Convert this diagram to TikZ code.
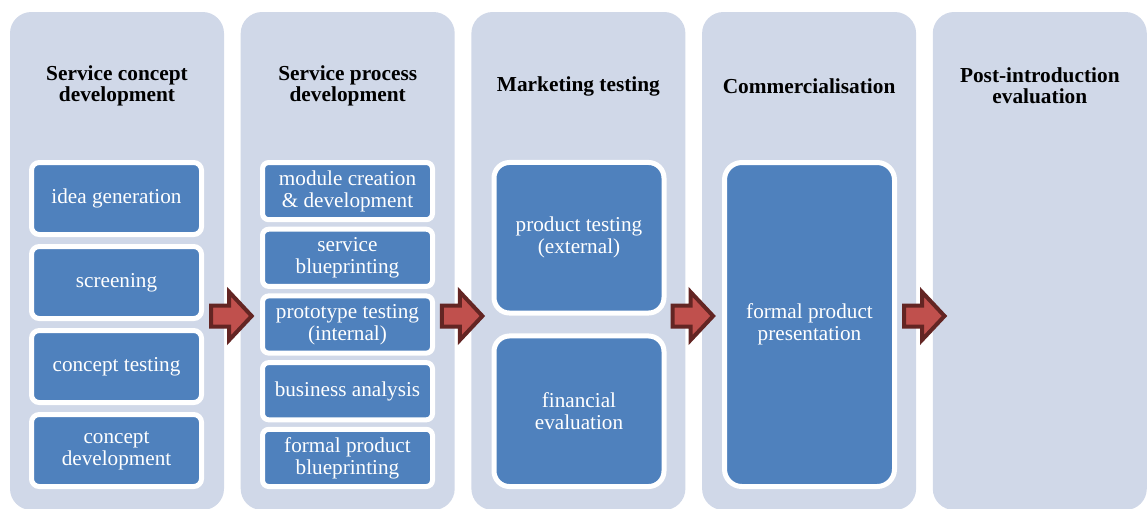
\documentclass[tikz,border=0pt]{standalone}
\usepackage{fontspec}
\setmainfont{Liberation Serif}
\definecolor{colbg}{HTML}{D0D8E8}
\definecolor{boxblue}{HTML}{4F81BD}
\definecolor{arrowfill}{HTML}{C0504D}
\definecolor{arrowline}{HTML}{632523}
\begin{document}
\begin{tikzpicture}[x=0.75pt,y=-0.75pt,
  column/.style={fill=colbg, rounded corners=16pt, inner sep=0pt,
    minimum width=160.5pt, minimum height=373.5pt},
  heading/.style={font=\bfseries\fontsize{16}{15.5}\selectfont, align=center,
    text=black, inner sep=0pt},
  stage/.style={draw=white, line width=3.75pt, fill=boxblue, text=white,
    font=\fontsize{15.9}{16.5}\selectfont, align=center, inner sep=0pt,
    minimum width=127.5pt},
  smallA/.style={stage, minimum height=54pt, rounded corners=5.8pt},
  smallB/.style={stage, minimum height=42.9pt, rounded corners=4.7pt},
  midbox/.style={stage, minimum height=112.9pt, rounded corners=11.6pt},
  tallbox/.style={stage, minimum height=243pt, rounded corners=13pt},
  arrowstyle/.style={fill=arrowfill, draw=arrowline, line width=3pt, miter limit=4},
  bigarrow/.pic={\draw[arrowstyle] (-20.5,-10.5) -- (-2.5,-10.5) -- (-2.5,-24) -- (20,0)
    -- (-2.5,24) -- (-2.5,10.5) -- (-20.5,10.5) -- cycle;}
]
\clip (0,0) rectangle (1147,508);
\fill[white] (0,0) rectangle (1147,508);

% columns
\node[column] (c1) at (117,261) {};
\node[column] (c2) at (347.7,261) {};
\node[column] (c3) at (578.4,261) {};
\node[column] (c4) at (809.1,261) {};
\node[column] (c5) at (1039.8,261) {};

% headings
\node[heading] (h1) at (117,86) {Service concept\\development};
\node[heading] (h2) at (347.7,86) {Service process\\development};
\node[heading] (h3) at (578.4,86.5) {Marketing testing};
\node[heading] (h4) at (809.1,86) {Commercialisation};
\node[heading] (h5) at (1039.8,86) {Post-introduction\\evaluation};

% column 1
\node[smallA] (a1) at (116.5,198.5) {idea generation};
\node[smallA] (a2) at (116.5,282.5) {screening};
\node[smallA] (a3) at (116.5,366.5) {concept testing};
\node[smallA] (a4) at (116.5,450.5) {concept\\development};

% column 2
\node[smallB] (b1) at (347.5,191.1) {module creation\\\& development};
\node[smallB] (b2) at (347.5,257.8) {service\\blueprinting};
\node[smallB] (b3) at (347.5,324.5) {prototype testing\\(internal)};
\node[smallB] (b4) at (347.5,391.2) {business analysis};
\node[smallB] (b5) at (347.5,457.9) {formal product\\blueprinting};

% column 3
\node[midbox] (m1) at (579,237.75) {product testing\\(external)};
\node[midbox] (m2) at (579,411.25) {financial\\evaluation};

% column 4
\node[tallbox] (t1) at (809.5,324.5) {formal product\\presentation};

% arrows
\pic (arr1) at (231.7,316) {bigarrow};
\pic (arr2) at (462.4,316) {bigarrow};
\pic (arr3) at (693.1,316) {bigarrow};
\pic (arr4) at (924.5,316) {bigarrow};
\end{tikzpicture}
\end{document}
